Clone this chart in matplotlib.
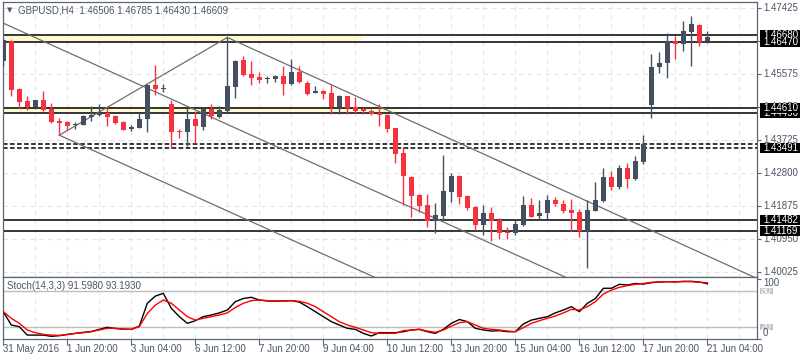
import matplotlib
matplotlib.use('Agg')
import matplotlib.pyplot as plt
import matplotlib.transforms as mtransforms
from matplotlib.patches import Rectangle
import numpy as np

# ---------------- data ----------------
opens = [1.4593, 1.4651, 1.4515, 1.4483, 1.4465, 1.4485, 1.4459, 1.4425, 1.4422, 1.4414,
         1.4415, 1.4436, 1.4442, 1.4448, 1.4439, 1.4423, 1.4403, 1.4406, 1.4432, 1.4528,
         1.4515, 1.4473, 1.4399, 1.4395, 1.4432, 1.4409, 1.4459, 1.4437, 1.4453, 1.4521,
         1.4596, 1.4558, 1.4548, 1.4544, 1.4544, 1.4551, 1.4530, 1.4563, 1.4532, 1.4504,
         1.4511, 1.4504, 1.4465, 1.4495, 1.4465, 1.4459, 1.4455, 1.4448, 1.4443, 1.4406,
         1.4337, 1.4270, 1.4218, 1.4190, 1.4146, 1.4160, 1.4228, 1.4272, 1.4216, 1.4186,
         1.4134, 1.4169, 1.4148, 1.4116, 1.4113, 1.4134, 1.4190, 1.4160, 1.4167, 1.4204,
         1.4193, 1.4176, 1.4170, 1.4117, 1.4174, 1.4202, 1.4270, 1.4242, 1.4293, 1.4263,
         1.4312, 1.4471, 1.4576, 1.4588, 1.4650, 1.4641, 1.4676, 1.4695, 1.46506]
highs = [1.4655, 1.4654, 1.4517, 1.4495, 1.4486, 1.4509, 1.4476, 1.4434, 1.4425, 1.4422,
         1.4443, 1.4467, 1.4473, 1.4462, 1.4442, 1.4425, 1.4415, 1.4448, 1.4530, 1.4584,
         1.4529, 1.4485, 1.4403, 1.4462, 1.4453, 1.4462, 1.4473, 1.4467, 1.4660, 1.4597,
         1.4607, 1.4595, 1.4563, 1.4551, 1.4556, 1.4579, 1.4600, 1.4579, 1.4539, 1.4523,
         1.4512, 1.4528, 1.4500, 1.4496, 1.4493, 1.4465, 1.4460, 1.4473, 1.4445, 1.4407,
         1.4352, 1.4272, 1.4221, 1.4221, 1.4197, 1.4330, 1.4281, 1.4273, 1.4218, 1.4188,
         1.4190, 1.4186, 1.4155, 1.4128, 1.4148, 1.4216, 1.4209, 1.4204, 1.4218, 1.4212,
         1.4204, 1.4206, 1.4178, 1.4204, 1.4256, 1.4293, 1.4286, 1.4302, 1.4307, 1.4328,
         1.4387, 1.4613, 1.4620, 1.4672, 1.4664, 1.4706, 1.4720, 1.4698, 1.46785]
lows = [1.4579, 1.4495, 1.4462, 1.4457, 1.4460, 1.4453, 1.4420, 1.4386, 1.4401, 1.4403,
        1.4414, 1.4425, 1.4439, 1.4411, 1.4417, 1.4400, 1.4399, 1.4406, 1.4395, 1.4500,
        1.4506, 1.4349, 1.4377, 1.4355, 1.4364, 1.4401, 1.4432, 1.4434, 1.4448, 1.4490,
        1.4551, 1.4526, 1.4532, 1.4532, 1.4535, 1.4500, 1.4526, 1.4532, 1.4500, 1.4504,
        1.4488, 1.4445, 1.4445, 1.4445, 1.4448, 1.4445, 1.4442, 1.4411, 1.4394, 1.4308,
        1.4190, 1.4157, 1.4172, 1.4128, 1.4113, 1.4148, 1.4200, 1.4192, 1.4176, 1.4120,
        1.4106, 1.4090, 1.4094, 1.4094, 1.4106, 1.4131, 1.4156, 1.4148, 1.4148, 1.4188,
        1.4169, 1.4117, 1.4100, 1.4013, 1.4174, 1.4200, 1.4232, 1.4234, 1.4237, 1.4260,
        1.4305, 1.4433, 1.4559, 1.4546, 1.4599, 1.4622, 1.4581, 1.4637, 1.46430]
closes = [1.4653, 1.4514, 1.4479, 1.4465, 1.4485, 1.4457, 1.4423, 1.4420, 1.4413, 1.4418,
          1.4439, 1.4442, 1.4448, 1.4436, 1.4420, 1.4401, 1.4409, 1.4432, 1.4526, 1.4516,
          1.4518, 1.4396, 1.4396, 1.4432, 1.4411, 1.4459, 1.4439, 1.4457, 1.4523, 1.4595,
          1.4556, 1.4546, 1.4542, 1.4546, 1.4551, 1.4530, 1.4563, 1.4534, 1.4502, 1.4511,
          1.4502, 1.4465, 1.4495, 1.4462, 1.4455, 1.4453, 1.4446, 1.4442, 1.4404, 1.4334,
          1.4271, 1.4216, 1.4188, 1.4146, 1.4162, 1.4230, 1.4272, 1.4214, 1.4183, 1.4134,
          1.4169, 1.4146, 1.4113, 1.4113, 1.4137, 1.4190, 1.4158, 1.4167, 1.4204, 1.4192,
          1.4174, 1.4169, 1.4117, 1.4176, 1.4204, 1.4268, 1.4242, 1.4293, 1.4263, 1.4314,
          1.4360, 1.4576, 1.4589, 1.4650, 1.4641, 1.4678, 1.4698, 1.4646, 1.46609]

stoch_k = [45, 22.8, 20, 6, 6, 6, 4, 5, 7, 8.8,
           10.6, 12, 15.6, 19, 17, 16, 15.5, 21, 59, 71,
           75.6, 50.6, 36.7, 25.6, 30, 36.7, 39.5, 43, 47.8, 61.7,
           67, 69, 64.5, 62.8, 62.8, 62.8, 63.4, 61, 53.4, 45,
           36.7, 28.4, 22.8, 17.3, 15.6, 8.9, 4.5, 10, 10, 10,
           11.7, 14.5, 15.6, 11.7, 8.9, 15.6, 25.6, 32, 28.4, 17.3,
           14.5, 12.8, 13.4, 11.7, 11.7, 24.5, 31, 34, 36.7, 43,
           47.8, 53.4, 45, 59, 67, 84, 84, 90.6, 89.5, 92,
           91, 93.4, 94.5, 95, 94.5, 95.6, 95.6, 94.5, 91.598]
stoch_d = [45, 34, 25.6, 14.5, 10, 7.2, 6, 5.5, 7.2, 8.9,
           10, 11.7, 14.5, 17.3, 17.3, 16, 15.6, 20, 42, 56,
           64.5, 59, 47.8, 36.7, 31, 34, 36.7, 39.5, 43, 52,
           59, 63.4, 64.5, 63.4, 62.8, 62.8, 63.4, 62.3, 59, 53.4,
           45, 36.7, 28.4, 22.8, 19, 14.5, 10, 8.9, 8.9, 8.9,
           13.4, 14.5, 15.6, 12.8, 10.6, 14.5, 21, 26.7, 28.4, 22.8,
           17.3, 15.6, 14.5, 12.8, 11.7, 18.4, 25.6, 30, 34, 37.8,
           43, 48.9, 47.8, 53.4, 61.7, 74.5, 81, 85.6, 88.4, 90.6,
           92, 94, 94.5, 95, 95, 95, 95, 94, 93.193]

x_labels = ["31 May 2016", "1 Jun 20:00", "3 Jun 04:00", "6 Jun 12:00", "7 Jun 20:00",
            "9 Jun 04:00", "10 Jun 12:00", "13 Jun 20:00", "15 Jun 04:00",
            "16 Jun 12:00", "17 Jun 20:00", "21 Jun 04:00"]
x_label_idx = [0, 8, 16, 24, 32, 40, 48, 56, 64, 72, 80, 88]

price_ticks = [1.47425, 1.46500, 1.45575, 1.44650, 1.43725, 1.42800, 1.41875, 1.40950, 1.40025]
solid_levels = [1.46680, 1.46470, 1.44490, 1.44610, 1.41482, 1.41169]
# drawn in this order, later boxes cover earlier ones
boxed_levels = [1.46680, 1.46470, 1.44490, 1.44610, 1.43491, 1.41482, 1.41169]
dashed_levels = [1.43600, 1.43491]
bands = [(1.46470, 1.46680, 44.9), (1.44490, 1.44610, 49.2)]
trendlines = [((0, 1.4700), (75, 1.3940)),
              ((7, 1.4386), (28, 1.4660)),
              ((28, 1.4660), (96, 1.3966)),
              ((7, 1.4386), (55, 1.3901))]
stoch_levels = [80, 20]

title = "GBPUSD,H4  1.46506 1.46785 1.46430 1.46609"
stoch_title = "Stoch(14,3,3) 91.5980 93.1930"

# ---------------- style ----------------
FONT = 'Liberation Sans'
plt.rcParams['font.family'] = [FONT, 'DejaVu Sans']
TXT = '#4a5666'
BULL = '#44505f'
BEAR = '#f5333f'
GRID = '#e3e3e3'
SPINE = '#5d6670'

W, H = 800, 360
fig = plt.figure(figsize=(W / 100, H / 100), dpi=100)
fig.patch.set_facecolor('white')


def frame(x0, y0, x1, y1):
    return [x0 / W, 1 - y1 / H, (x1 - x0) / W, (y1 - y0) / H]


ax = fig.add_axes(frame(2.5, 2, 757, 277))
axs = fig.add_axes(frame(2.5, 277, 757, 339))

n = len(opens)
idx = np.arange(n)
o = np.array(opens); h = np.array(highs); l = np.array(lows); c = np.array(closes)
bull = c >= o
cols = np.where(bull, BULL, BEAR)

XL = (-0.1, 94.2)
ax.set_xlim(*XL)
ax.set_ylim(1.39885, 1.47593)
axs.set_xlim(*XL)
axs.set_ylim(-0.5, 102.8)

# grid
for a in (ax, axs):
    for gx in range(0, 96, 4):
        a.axvline(gx, color=GRID, lw=0.8, ls=(0, (4, 4)), zorder=0)
for py in price_ticks:
    ax.axhline(py, color=GRID, lw=0.8, ls=(0, (4, 4)), zorder=0)

# bands
for lo, hi, xe in bands:
    ax.fill_between([XL[0], xe], lo, hi, color='#fffad0', lw=0, zorder=0.5)

# horizontal levels
for lv in solid_levels:
    ax.axhline(lv, color='black', lw=1.1, zorder=1)
for lv in dashed_levels:
    ax.axhline(lv, color='black', lw=1.1, ls=(0, (3, 1.6)), zorder=1)

# trendlines
for (x0, y0), (x1, y1) in trendlines:
    ax.plot([x0, x1], [y0, y1], color='#6e6e6e', lw=0.9, zorder=1.5)

# candles
ax.vlines(idx, l, h, colors=cols, lw=1.0, zorder=3)
body_lo = np.minimum(o, c)
body_h = np.maximum(np.abs(c - o), 0.00025)
ax.bar(idx, body_h, bottom=body_lo, width=0.62, color=cols, lw=0, zorder=4)

# stochastic
axs.plot(idx, stoch_k, color='black', lw=1.0, zorder=3)
axs.plot(idx, stoch_d, color='#ff0000', lw=1.0, zorder=3)
for lv in stoch_levels:
    axs.axhline(lv, color='#bdbdbd', lw=1.0, zorder=1)

# spines and ticks
for a in (ax, axs):
    for s in a.spines.values():
        s.set_color(SPINE)
        s.set_linewidth(0.9)
    a.set_xticks([])
    a.set_yticks([])

ax.yaxis.tick_right()
ax.set_yticks(price_ticks)
ax.set_yticklabels([])
ax.tick_params(axis='y', direction='out', length=3, color=SPINE, width=0.8)

axs.set_xticks(x_label_idx)
axs.set_xticklabels([])
axs.tick_params(axis='x', direction='out', length=4, color=SPINE, width=0.8)
axs.yaxis.tick_right()
axs.set_yticks([0, 100])
axs.set_yticklabels([])
axs.tick_params(axis='y', direction='out', length=3, color=SPINE, width=0.8)

# right price labels
trm = mtransforms.blended_transform_factory(fig.transFigure, ax.transData)
for py in price_ticks:
    ax.text(763 / W, py, f"{py:.5f}", transform=trm, fontsize=7, color=TXT,
            va='center', ha='left', clip_on=False, zorder=5)
box_h = 0.0028
z = 6
for lv in boxed_levels:
    ax.add_patch(Rectangle((760 / W, lv - box_h / 2), 40 / W, box_h, transform=trm,
                           facecolor='black', edgecolor='none', clip_on=False, zorder=z))
    ax.text(763 / W, lv, f"{lv:.5f}", transform=trm, fontsize=7, color='white',
            va='center', ha='left', clip_on=False, zorder=z + 0.5)
    z += 1

# stoch right labels
trs = mtransforms.blended_transform_factory(fig.transFigure, axs.transData)
for lv in stoch_levels:
    axs.add_patch(Rectangle((760 / W, lv - 5), 13 / W, 10, transform=trs,
                            facecolor='#c4c4c4', edgecolor='none', clip_on=False, zorder=5))
    axs.text(761 / W, lv, str(lv), transform=trs, fontsize=7, color='white',
             va='center', ha='left', clip_on=False, zorder=6)
axs.text(763 / W, 93, "100", transform=trs, fontsize=7, color=TXT,
         va='center', ha='left', clip_on=False, zorder=7)
axs.text(763 / W, 9, "0", transform=trs, fontsize=7, color=TXT,
         va='center', ha='left', clip_on=False, zorder=7)

# x labels
trx = mtransforms.blended_transform_factory(axs.transData, fig.transFigure)
for xi, lab in zip(x_label_idx, x_labels):
    axs.text(xi, 1 - 349 / H, lab, transform=trx, fontsize=7, color=TXT,
             ha='left', va='center', clip_on=False)

# titles
fig.text(7 / W, 1 - 10.5 / H, "\u25BC", fontsize=5, color=TXT, ha='left', va='center',
         family='DejaVu Sans')
fig.text(18 / W, 1 - 10.5 / H, title, fontsize=7, color=TXT, ha='left', va='center')
fig.text(7 / W, 1 - 286 / H, stoch_title, fontsize=7, color=TXT, ha='left', va='center')

fig.savefig('out.png', dpi=100, facecolor='white')
